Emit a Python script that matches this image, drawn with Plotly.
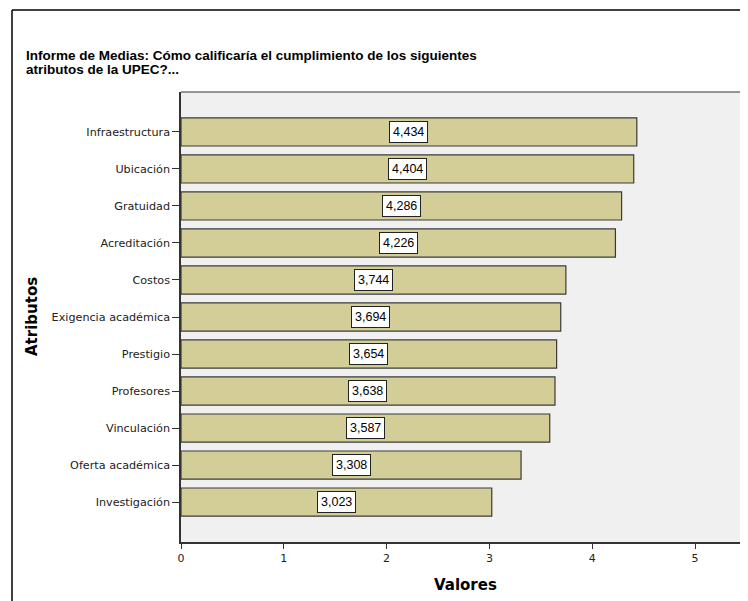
import plotly.graph_objects as go

categories = ["Infraestructura", "Ubicación", "Gratuidad", "Acreditación", "Costos",
              "Exigencia académica", "Prestigio", "Profesores", "Vinculación",
              "Oferta académica", "Investigación"]
values = [4.434, 4.404, 4.286, 4.226, 3.744, 3.694, 3.654, 3.638, 3.587, 3.308, 3.023]
value_labels = ["4,434", "4,404", "4,286", "4,226", "3,744", "3,694", "3,654", "3,638",
                "3,587", "3,308", "3,023"]
x_ticks = [0, 1, 2, 3, 4, 5]

# page body has an 8px margin: work in page pixels and shift
OFF = 8
W, H = 748 - OFF, 601 - OFF
L, T = 181 - OFF, 92 - OFF
R = 0
B = 601 - 542
pw, ph = W - L - R, H - T - B

def px_x(p):
    return (p - OFF - L) / pw

def px_y(p):
    return (H - B - (p - OFF)) / ph

cats_bottom_up = categories[::-1]
vals_bottom_up = values[::-1]
labels_bottom_up = value_labels[::-1]

fig = go.Figure()
fig.add_trace(go.Bar(
    x=vals_bottom_up, y=cats_bottom_up, orientation="h",
    marker=dict(color="#d3ce98", line=dict(color="#3a3a3a", width=1.2)),
    width=0.76, hoverinfo="skip",
))

for c, v, lab in zip(cats_bottom_up, vals_bottom_up, labels_bottom_up):
    fig.add_annotation(x=v / 2, y=c, xref="x", yref="y", text=lab, showarrow=False,
                       font=dict(family="Liberation Sans, Arial", size=12.5, color="#000"),
                       bgcolor="white", bordercolor="#222", borderwidth=1, borderpad=3)

font_title = dict(family="Liberation Sans, Arial", size=13.5, color="#000")
fig.add_annotation(x=px_x(24), y=px_y(55), xref="paper", yref="paper", xanchor="left",
                   yanchor="middle", showarrow=False, font=font_title,
                   text="<b>Informe de Medias: Cómo calificaría el cumplimiento de los siguientes</b>")
fig.add_annotation(x=px_x(24), y=px_y(69), xref="paper", yref="paper", xanchor="left",
                   yanchor="middle", showarrow=False, font=font_title,
                   text="<b>atributos de la UPEC?...</b>")

fig.add_annotation(x=px_x(32), y=px_y(317), xref="paper", yref="paper", showarrow=False,
                   xanchor="center", yanchor="middle",
                   textangle=-90, text="<b>Atributos</b>",
                   font=dict(family="DejaVu Sans", size=15, color="#000"))
fig.add_annotation(x=px_x(465), y=px_y(585), xref="paper", yref="paper", showarrow=False,
                   xanchor="center", yanchor="middle",
                   text="<b>Valores</b>",
                   font=dict(family="DejaVu Sans", size=15, color="#000"))

# outer frame
fig.add_shape(type="line", xref="paper", yref="paper", x0=px_x(12), x1=px_x(12),
              y0=px_y(10), y1=px_y(620), line=dict(color="#000", width=1.5))
fig.add_shape(type="line", xref="paper", yref="paper", x0=px_x(12), x1=px_x(770),
              y0=px_y(10), y1=px_y(10), line=dict(color="#000", width=1.5))
# plot area top border
fig.add_shape(type="line", xref="paper", yref="paper", x0=0, x1=1.02, y0=1, y1=1,
              line=dict(color="#333", width=1.2))

n = len(categories)
unit = 37.1
off = 40 / unit

fig.update_layout(
    width=W, height=H, margin=dict(l=L, r=R, t=T, b=B),
    paper_bgcolor="white", plot_bgcolor="#f0f0f0", showlegend=False,
    xaxis=dict(range=[0, pw / 102.8], tickvals=x_ticks, ticks="outside", ticklen=5,
               tickcolor="#333", tickwidth=1.2, showgrid=False, zeroline=False,
               showline=True, linecolor="#333", linewidth=1.5,
               tickfont=dict(family="DejaVu Sans", size=11, color="#222")),
    yaxis=dict(type="category", categoryorder="array", categoryarray=cats_bottom_up,
               range=[-off, n - 1 + off], ticks="outside", ticklen=7, tickcolor="#333",
               tickwidth=1.2, showgrid=False, showline=True, linecolor="#333", linewidth=1.5,
               tickfont=dict(family="DejaVu Sans", size=11.2, color="#222")),
)

fig.write_html("out.html")
